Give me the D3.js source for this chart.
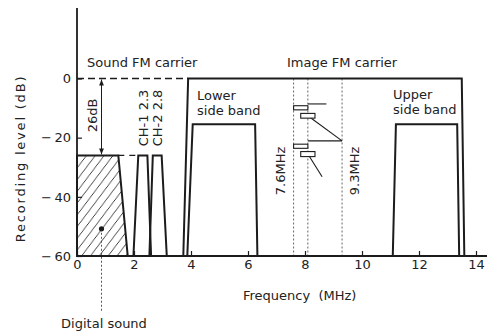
<!DOCTYPE html>
<html><head><meta charset="utf-8">
<script src="https://cdn.jsdelivr.net/npm/d3@7"></script>
<style>
body{margin:0;background:#fff}
svg{display:block;font-family:"DejaVu Sans",sans-serif}
</style></head><body>
<svg id="c" width="487" height="333"></svg>
<script>
// ---- data ----
const xTicks = [0, 2, 4, 6, 8, 10, 12, 14];
const yTicks = [0, -20, -40, -60];
const yTickLabels = ["0", "\u2212\u200920", "\u2212\u200940", "\u2212\u200960"];
const digitalSound = [[0, -60], [0, -26], [1.45, -26], [1.78, -60]];
const ch1 = [[1.98, -60], [2.15, -26], [2.47, -26], [2.6, -60]];
const ch2 = [[2.54, -60], [2.66, -26], [2.97, -26], [3.15, -60]];
const imageCarrier = [[3.73, -60], [3.9, 0], [13.5, 0], [13.59, -60]];
const lowerBand = [[3.87, -60], [4.06, -15.5], [6.25, -15.5], [6.33, -60]];
const upperBand = [[11.08, -60], [11.19, -15.5], [13.34, -15.5], [13.41, -60]];
const markerFreqs = [7.6, 8.1, 9.3];
const markerLabels = ["7.6MHz", null, "9.3MHz"];
const devLines = [
  [[8.1, -8.6], [8.75, -8.6]],
  [[8.1, -12.6], [9.3, -21.1]],
  [[8.1, -21.1], [9.3, -21.1]],
  [[8.1, -25.5], [8.6, -33.2]]
];
const devRects = [
  [7.6, 8.1, -9.2, -10.6],
  [7.85, 8.35, -11.8, -13.4],
  [7.6, 8.1, -22.2, -23.6],
  [7.85, 8.35, -24.7, -26.4]
];
const soundLevel = -26;
const digitalDot = [0.86, -50.8];
const channels = [{f: 2.3, label: "CH-1 2.3"}, {f: 2.8, label: "CH-2 2.8"}];

// ---- scales ----
const x = d3.scaleLinear().domain([0, 14]).range([77, 476]);
const y = d3.scaleLinear().domain([-60, 0]).range([256, 78.5]);
const ink = "#1c1c1c";
const svg = d3.select("#c");

const defs = svg.append("defs");
const pat = defs.append("pattern").attr("id", "hatch")
  .attr("patternUnits", "userSpaceOnUse").attr("width", 10).attr("height", 10)
  .attr("patternTransform", "rotate(-8)");
pat.append("path").attr("d", "M-1,1 l2,-2 M0,10 l10,-10 M9,11 l2,-2")
  .attr("stroke", ink).attr("stroke-width", 0.9);
const mk = defs.append("marker").attr("id", "arr").attr("viewBox", "0 0 10 10")
  .attr("refX", 10).attr("refY", 5).attr("markerWidth", 6).attr("markerHeight", 6)
  .attr("orient", "auto-start-reverse").attr("markerUnits", "userSpaceOnUse");
mk.append("path").attr("d", "M0,1 L10,5 L0,9 z").attr("fill", ink);

const line = d3.line().x(d => x(d[0])).y(d => y(d[1]));

// dotted marker lines
svg.selectAll(".mline").data(markerFreqs).join("line")
  .attr("x1", d => x(d)).attr("x2", d => x(d))
  .attr("y1", y(0)).attr("y2", y(-60))
  .attr("stroke", "#555").attr("stroke-width", 0.9).attr("stroke-dasharray", "2,2");

// dashed reference lines
svg.append("path").attr("d", line([[0, 0], [3.9, 0]]))
  .attr("stroke", ink).attr("stroke-width", 1.4).attr("fill", "none").attr("stroke-dasharray", "7,4");
svg.append("path").attr("d", line([[1.45, soundLevel], [2.15, soundLevel]]))
  .attr("stroke", ink).attr("stroke-width", 1.4).attr("fill", "none").attr("stroke-dasharray", "6,5");

// hatched digital sound
svg.append("path").attr("d", line(digitalSound) + "Z")
  .attr("fill", "url(#hatch)").attr("stroke", ink).attr("stroke-width", 2);

// spectra
[ch1, ch2, imageCarrier, lowerBand, upperBand].forEach(s => {
  svg.append("path").attr("d", line(s)).attr("fill", "none")
    .attr("stroke", ink).attr("stroke-width", 2).attr("stroke-linejoin", "miter");
});

// deviation symbols
svg.selectAll(".dl").data(devLines).join("path").attr("d", d => line(d))
  .attr("stroke", ink).attr("stroke-width", 1.1).attr("fill", "none");
svg.selectAll(".dr").data(devRects).join("rect")
  .attr("x", d => x(d[0])).attr("width", d => x(d[1]) - x(d[0]))
  .attr("y", d => y(d[2])).attr("height", d => y(d[3]) - y(d[2]))
  .attr("fill", "#fff").attr("stroke", ink).attr("stroke-width", 1.1);

// 26 dB arrow
svg.append("line").attr("x1", x(digitalDot[0])).attr("x2", x(digitalDot[0]))
  .attr("y1", y(0) + 1).attr("y2", y(soundLevel) - 1)
  .attr("stroke", ink).attr("stroke-width", 1)
  .attr("marker-start", "url(#arr)").attr("marker-end", "url(#arr)");

// digital sound pointer
svg.append("line").attr("x1", x(digitalDot[0])).attr("x2", x(digitalDot[0]))
  .attr("y1", y(digitalDot[1])).attr("y2", 312)
  .attr("stroke", "#444").attr("stroke-width", 0.9).attr("stroke-dasharray", "2,2");
svg.append("circle").attr("cx", x(digitalDot[0])).attr("cy", y(digitalDot[1])).attr("r", 2.6).attr("fill", ink);

// axes
const xa = svg.append("g").attr("transform", `translate(0,${y(-60)})`)
  .call(d3.axisBottom(x).tickValues(xTicks).tickSize(-5).tickPadding(4).tickFormat(d3.format("d")));
const ya = svg.append("g").attr("transform", `translate(${x(0)},0)`)
  .call(d3.axisLeft(y).tickValues(yTicks).tickSize(-5).tickPadding(6).tickFormat((d, i) => yTickLabels[i]));
[xa, ya].forEach(a => {
  a.select(".domain").remove();
  a.selectAll("line").attr("stroke", ink).attr("stroke-width", 1.2);
  a.selectAll("text").attr("font-size", 13).attr("fill", "#222").attr("font-family", "DejaVu Sans");
});
svg.append("line").attr("x1", x(0)).attr("x2", x(0)).attr("y1", 8).attr("y2", y(-60) + 1)
  .attr("stroke", ink).attr("stroke-width", 1.8);
svg.append("line").attr("x1", x(0) - 1).attr("x2", 487).attr("y1", y(-60)).attr("y2", y(-60))
  .attr("stroke", ink).attr("stroke-width", 1.8);

// text
const T = (t, px, py, opts = {}) => {
  const el = svg.append("text").text(t).attr("font-size", opts.size || 13).attr("fill", "#222")
    .attr("text-anchor", opts.anchor || "start");
  if (opts.ls) el.attr("letter-spacing", opts.ls);
  if (opts.rot) el.attr("transform", `translate(${px},${py}) rotate(-90)`);
  else el.attr("x", px).attr("y", py);
  return el;
};
T("Sound FM carrier", 87, 67);
T("Image FM carrier", 287, 67);
T("Lower", 197, 100);
T("side band", 197, 115);
T("Upper", 393, 99);
T("side band", 393, 114);
T("26dB", 97, 115.5, {rot: true, anchor: "middle"});
channels.forEach(c => T(c.label, x(c.f) + 5.5, 118, {rot: true, anchor: "middle"}));
markerFreqs.forEach((f, i) => {
  if (markerLabels[i]) T(markerLabels[i], x(f) + (i === 0 ? -9 : 17), 171, {rot: true, anchor: "middle"});
});
T("Recording level (dB)", 24.5, 158.5, {rot: true, anchor: "middle", ls: 1.8});
T("Frequency  (MHz)", 243, 300).attr("xml:space", "preserve").style("white-space", "pre");
T("Digital sound", 104, 328, {anchor: "middle"});
</script>
</body></html>
